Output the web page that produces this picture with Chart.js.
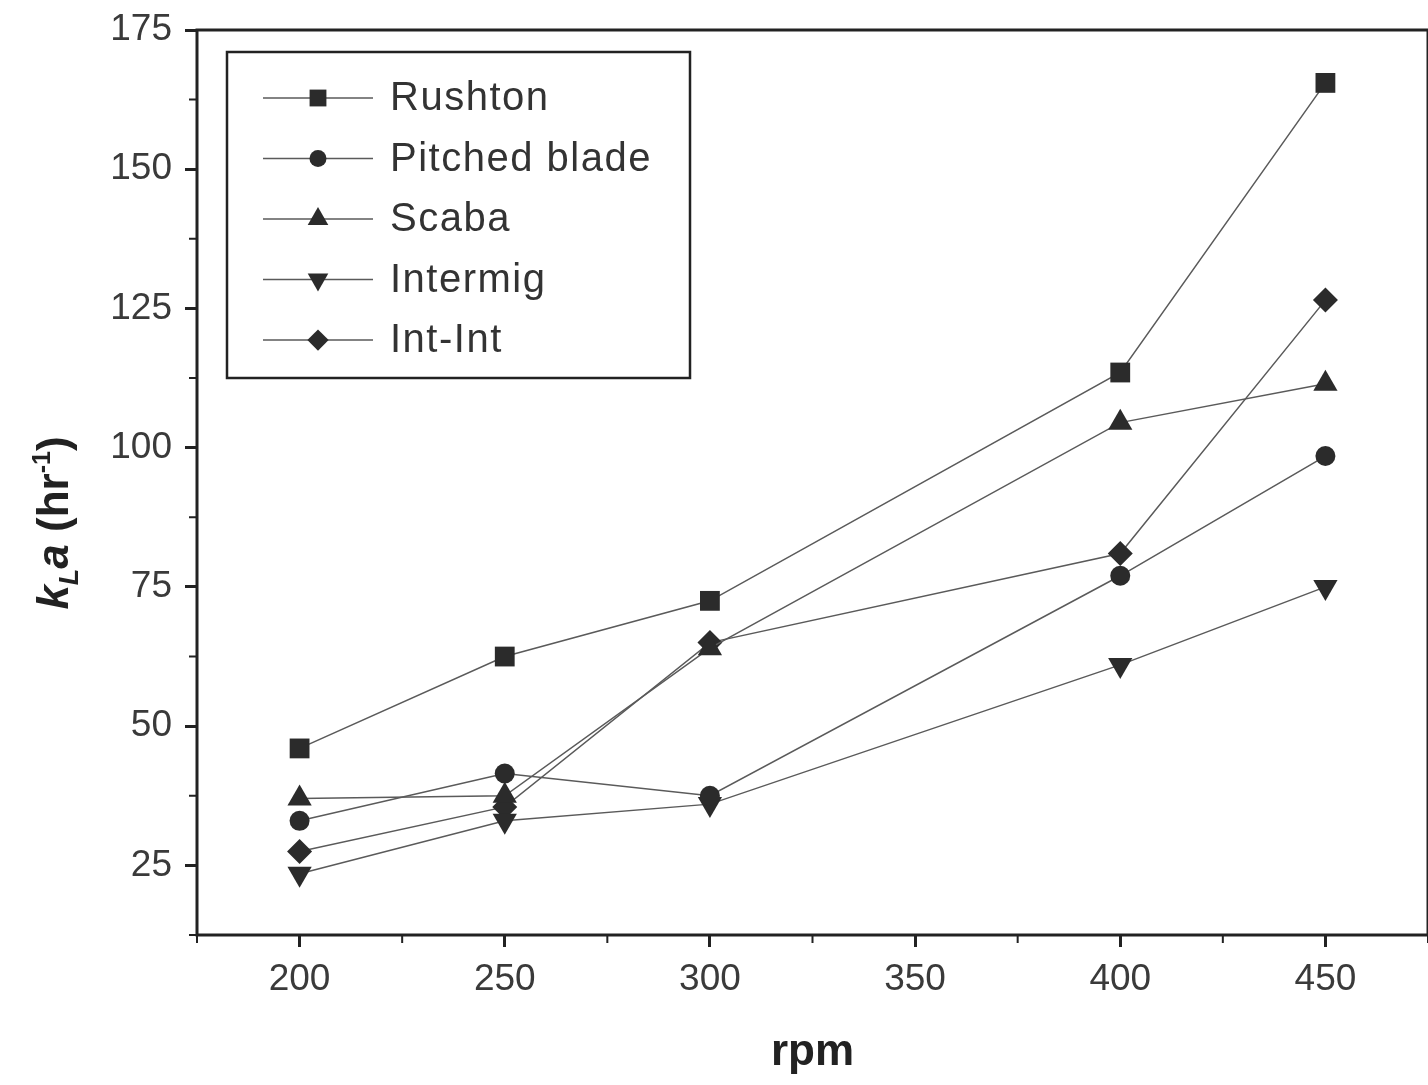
<!DOCTYPE html>
<html>
<head>
<meta charset="utf-8">
<script src="https://cdn.jsdelivr.net/npm/chart.js@4.4.0/dist/chart.umd.min.js"></script>
<style>
html, body { margin: 0; padding: 0; background: #fff; overflow: hidden; }
canvas { display: block; }
</style>
</head>
<body>
<!-- canvas is a bit wider than the window: chart.js keeps ~14px right of the plot for the last x label,
     the original frame runs to the edge of the picture -->
<canvas id="chart" width="1442" height="1085"></canvas>
<script>
// data
const rpm = [200, 250, 300, 400, 450];
const seriesNames = ['Rushton', 'Pitched blade', 'Scaba', 'Intermig', 'Int-Int'];
const rushton = [46, 62.5, 72.5, 113.5, 165.5];
const pitchedBlade = [33, 41.5, 37.5, 77, 98.5];
const scaba = [37, 37.5, 64, 104.5, 111.5];
const intermig = [23.5, 33, 36, 61, 75];
const intInt = [27.5, 35.5, 65, 81, 126.5];
const xTicks = [200, 250, 300, 350, 400, 450];
const xMinor = [175, 225, 275, 325, 375, 425, 475];
const yTicks = [25, 50, 75, 100, 125, 150, 175];
const yMinor = [12.5, 37.5, 62.5, 87.5, 112.5, 137.5, 162.5];

const ink = '#222';
const lineCol = '#5a5a5a';
const markCol = '#2b2b2b';
const font = '"Liberation Sans", Arial, sans-serif';

const allSeries = [rushton, pitchedBlade, scaba, intermig, intInt];
const styles = [
  { pointStyle: 'rect', pointRadius: 14, pointRotation: 0 },
  { pointStyle: 'circle', pointRadius: 10, pointRotation: 0 },
  { pointStyle: 'triangle', pointRadius: 14, pointRotation: 0 },
  { pointStyle: 'triangle', pointRadius: 14, pointRotation: 180 },
  { pointStyle: 'rectRot', pointRadius: 12.5, pointRotation: 0 }
];

const datasets = allSeries.map((vals, i) => ({
  label: seriesNames[i],
  data: vals.map((v, j) => ({ x: rpm[j], y: v })),
  borderColor: lineCol,
  borderWidth: 1.5,
  backgroundColor: markCol,
  pointBackgroundColor: markCol,
  pointBorderWidth: 0,
  pointStyle: styles[i].pointStyle,
  pointRadius: styles[i].pointRadius,
  pointRotation: styles[i].pointRotation,
  tension: 0
}));

// frame + minor ticks
const framePlugin = {
  id: 'frame',
  afterDraw(chart) {
    const ctx = chart.ctx;
    const { left, right, top, bottom } = chart.chartArea;
    const xs = chart.scales.x, ys = chart.scales.y;
    ctx.save();
    ctx.strokeStyle = ink;
    ctx.lineWidth = 3;
    ctx.strokeRect(left, top, right - left, bottom - top);
    ctx.lineWidth = 2;
    ctx.beginPath();
    xMinor.forEach(v => {
      const px = xs.getPixelForValue(v);
      ctx.moveTo(px, bottom);
      ctx.lineTo(px, bottom + 8);
    });
    yMinor.forEach(v => {
      const py = ys.getPixelForValue(v);
      ctx.moveTo(left, py);
      ctx.lineTo(left - 8, py);
    });
    ctx.stroke();
    ctx.restore();
  }
};

// boxed legend inside the plot
const legendPlugin = {
  id: 'legendBox',
  afterDraw(chart) {
    const ctx = chart.ctx;
    const { left, top } = chart.chartArea;
    const bx = left + 30, by = top + 22, bw = 463, bh = 326;
    ctx.save();
    ctx.fillStyle = '#fff';
    ctx.fillRect(bx, by, bw, bh);
    ctx.strokeStyle = ink;
    ctx.lineWidth = 2.5;
    ctx.strokeRect(bx, by, bw, bh);
    chart.data.datasets.forEach((ds, i) => {
      const cy = by + 46 + i * 60.5;
      ctx.strokeStyle = lineCol;
      ctx.lineWidth = 1.5;
      ctx.beginPath();
      ctx.moveTo(bx + 36, cy);
      ctx.lineTo(bx + 146, cy);
      ctx.stroke();
      ctx.fillStyle = markCol;
      Chart.helpers.drawPoint(ctx, {
        pointStyle: ds.pointStyle,
        radius: ds.pointRadius * 0.85,
        rotation: ds.pointRotation,
        borderWidth: 0
      }, bx + 91, cy);
      ctx.fillStyle = '#333';
      ctx.font = '40px ' + font;
      ctx.letterSpacing = '1.5px';
      ctx.textBaseline = 'middle';
      ctx.textAlign = 'left';
      ctx.fillText(ds.label, bx + 163, cy + 1);
    });
    ctx.restore();
  }
};

// y title with subscript and superscript
const yTitlePlugin = {
  id: 'yTitle',
  afterDraw(chart) {
    const ctx = chart.ctx;
    const parts = [
      { t: 'k', f: 'italic bold 44px ' + font, dy: 0 },
      { t: 'L', f: 'italic bold 27px ' + font, dy: 10 },
      { t: 'a', f: 'italic bold 44px ' + font, dy: 0 },
      { t: ' (hr', f: 'bold 44px ' + font, dy: 0 },
      { t: '-1', f: 'bold 25px ' + font, dy: -18 },
      { t: ')', f: 'bold 44px ' + font, dy: 0 }
    ];
    ctx.save();
    let total = 0;
    parts.forEach(p => { ctx.font = p.f; p.w = ctx.measureText(p.t).width; total += p.w; });
    ctx.translate(68, 523);
    ctx.rotate(-Math.PI / 2);
    ctx.fillStyle = ink;
    ctx.textBaseline = 'alphabetic';
    let x = -total / 2;
    parts.forEach(p => {
      ctx.font = p.f;
      ctx.fillText(p.t, x, p.dy);
      x += p.w;
    });
    ctx.restore();
  }
};

const tickFont = { family: font, size: 37 };

new Chart(document.getElementById('chart'), {
  type: 'line',
  data: { datasets },
  options: {
    responsive: false,
    animation: false,
    devicePixelRatio: 1,
    layout: { padding: { top: 30, right: 1, left: 0, bottom: 0 } },
    plugins: { legend: { display: false }, tooltip: { enabled: false } },
    scales: {
      x: {
        type: 'linear',
        min: 175,
        max: 475,
        afterBuildTicks: (s) => { s.ticks = xTicks.map(v => ({ value: v })); },
        afterFit: (s) => { s.height = 150; s.paddingLeft = 0; s.paddingRight = 0; },
        grid: { display: true, drawOnChartArea: false, drawTicks: true, tickLength: 12, tickWidth: 3, tickColor: ink },
        border: { display: false },
        ticks: { font: tickFont, color: '#3a3a3a', padding: 11, maxRotation: 0 },
        title: {
          display: true,
          text: 'rpm',
          font: { family: font, size: 44, weight: 'bold' },
          color: ink,
          padding: { top: 0, bottom: 6 }
        }
      },
      y: {
        min: 12.5,
        max: 175,
        afterBuildTicks: (s) => { s.ticks = yTicks.map(v => ({ value: v })); },
        afterFit: (s) => { s.width = 197; s.paddingTop = 0; s.paddingBottom = 0; },
        grid: { display: true, drawOnChartArea: false, drawTicks: true, tickLength: 12, tickWidth: 3, tickColor: ink },
        border: { display: false },
        ticks: { font: tickFont, color: '#3a3a3a', padding: 13 }
      }
    }
  },
  plugins: [framePlugin, legendPlugin, yTitlePlugin]
});
</script>
</body>
</html>
